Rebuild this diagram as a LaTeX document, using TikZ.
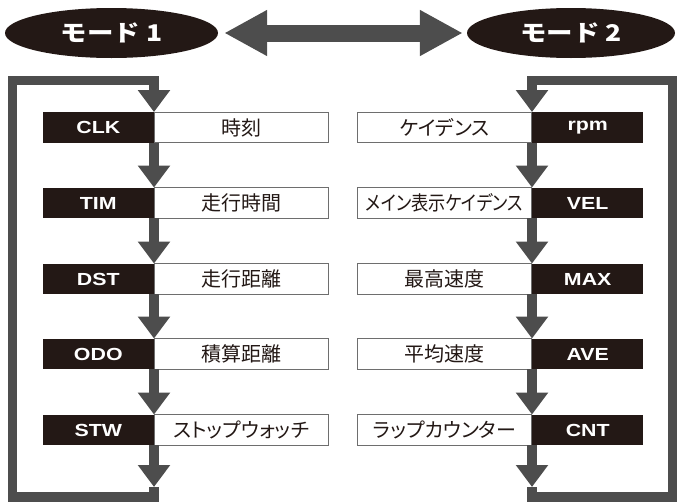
\documentclass[tikz,border=0pt]{standalone}
\usepackage{fontspec}
\newfontfamily\jp{Noto Sans CJK JP}[RawFeature=+palt]
\newfontfamily\jpcond{Noto Sans CJK JP}[RawFeature=+palt,FakeStretch=0.86]
\newfontfamily\jpwide{Noto Sans CJK JP}[FakeStretch=1.15]
\newfontfamily\lab{Liberation Sans}[FakeStretch=1.22]
\usetikzlibrary{shapes.geometric,arrows.meta}
\definecolor{ink}{HTML}{231815}
\definecolor{arr}{HTML}{4D4D4D}
\definecolor{edge}{HTML}{6E6E6E}
\tikzset{
 tag/.style={fill=ink, text=white, minimum width=111pt, minimum height=30.5pt, inner sep=0pt,
   font=\lab\bfseries\fontsize{17.5}{17.5}\selectfont},
 desc/.style={draw=edge, line width=0.8pt, fill=white, text=ink, minimum width=174pt, minimum height=30.5pt, inner sep=0pt,
   font=\jp\fontsize{20}{20}\selectfont},
 mode/.style={ellipse, fill=ink, text=white, minimum height=50pt, inner sep=0pt,
   font=\jpwide\bfseries\fontsize{23}{23}\selectfont},
 conn/.style={draw=arr, line width=9.5pt, line join=miter, -{Triangle[width=31pt,length=22pt]}},
 big/.style={draw=arr, line width=17pt, {Triangle[width=43pt,length=43pt]}-{Triangle[width=43pt,length=43pt]}}
}
\begin{document}
\begin{tikzpicture}[x=1pt,y=-1pt]
\useasboundingbox (0,0) rectangle (677,501);
% mode ellipses
\node[mode, minimum width=213pt] (m1) at (111.5,33) {モード 1};
\node[mode, minimum width=208pt] (m2) at (571,33) {モード 2};
\draw[big, shorten <=6pt, shorten >=4pt] (m1.east) -- (m2.west);

% left column
\node[desc, anchor=west] (clkt) at (154,127.5) {時刻};
\node[tag, anchor=east] (clk) at (154,127.5) {CLK};
\node[desc, anchor=west] (timt) at (154,203) {走行時間};
\node[tag, anchor=east] (tim) at (154,203) {TIM};
\node[desc, anchor=west] (dstt) at (154,279) {走行距離};
\node[tag, anchor=east] (dst) at (154,279) {DST};
\node[desc, anchor=west] (odot) at (154,354) {積算距離};
\node[tag, anchor=east] (odo) at (154,354) {ODO};
\node[desc, anchor=west] (stwt) at (154,430) {ストップウォッチ};
\node[tag, anchor=east] (stw) at (154,430) {STW};

% right column
\node[desc, anchor=east] (rpmt) at (532,127.5) {ケイデンス};
\node[tag, anchor=west] (rpm) at (532,127.5) {rpm};
\node[desc, anchor=east, font=\jpcond\fontsize{20}{20}\selectfont] (velt) at (532,203) {メイン表示ケイデンス};
\node[tag, anchor=west] (vel) at (532,203) {VEL};
\node[desc, anchor=east] (maxt) at (532,279) {最高速度};
\node[tag, anchor=west] (max) at (532,279) {MAX};
\node[desc, anchor=east] (avet) at (532,354) {平均速度};
\node[tag, anchor=west] (ave) at (532,354) {AVE};
\node[desc, anchor=east] (cntt) at (532,430) {ラップカウンター};
\node[tag, anchor=west] (cnt) at (532,430) {CNT};

% left connectors
\draw[conn] (clk.south east) -- (tim.north east);
\draw[conn] (tim.south east) -- (dst.north east);
\draw[conn] (dst.south east) -- (odo.north east);
\draw[conn] (odo.south east) -- (stw.north east);
\coordinate (l1) at (154,487);
\coordinate (lbot) at (154,497);
\coordinate (lbl) at (12.5,497);
\coordinate (ltl) at (12.5,80.5);
\coordinate (ltr) at (154,80.5);
\draw[conn] (stw.south east) -- (l1);
\draw[conn] (l1) -- (lbot) -- (lbl) -- (ltl) -- (ltr) -- (clk.north east);

% right connectors
\draw[conn] (rpm.south west) -- (vel.north west);
\draw[conn] (vel.south west) -- (max.north west);
\draw[conn] (max.south west) -- (ave.north west);
\draw[conn] (ave.south west) -- (cnt.north west);
\coordinate (r1) at (532,487);
\coordinate (rbot) at (532,497);
\coordinate (rbr) at (673,497);
\coordinate (rtr) at (673,80.5);
\coordinate (rtl) at (532,80.5);
\draw[conn] (cnt.south west) -- (r1);
\draw[conn] (r1) -- (rbot) -- (rbr) -- (rtr) -- (rtl) -- (rpm.north west);
\end{tikzpicture}
\end{document}
